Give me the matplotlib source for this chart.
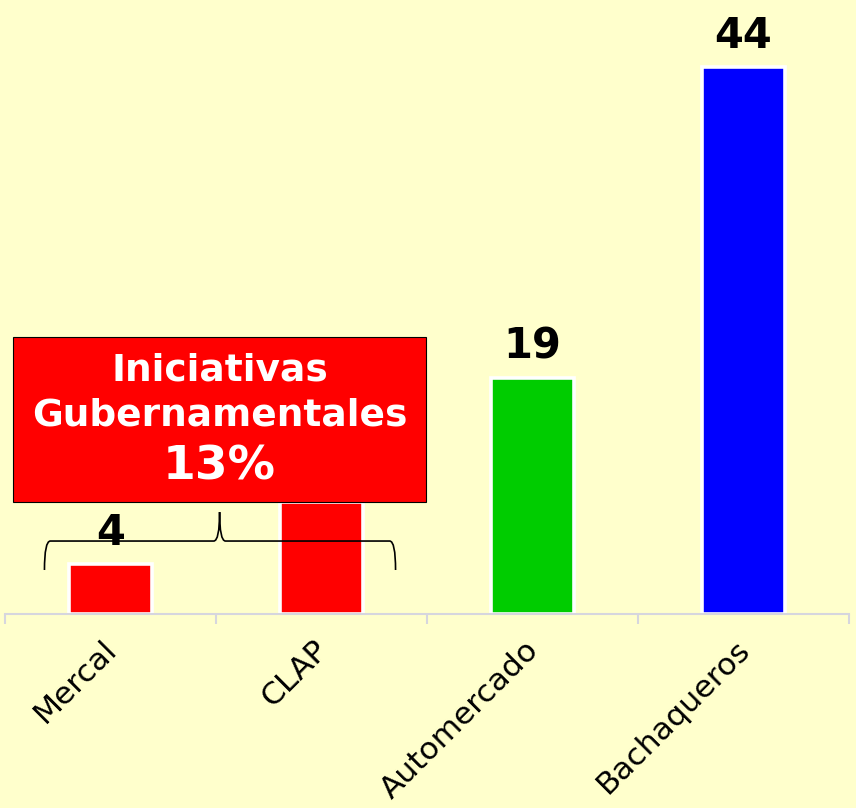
import matplotlib.pyplot as plt
from matplotlib.patches import Rectangle, PathPatch
from matplotlib.path import Path
from matplotlib.transforms import ScaledTranslation

categories = ["Mercal", "CLAP", "Automercado", "Bachaqueros"]
values = [4, 9, 19, 44]
colors = ["#ff0000", "#ff0000", "#00cc00", "#0000ff"]
box_lines = ["Iniciativas", "Gubernamentales", "13%"]

bg = "#ffffcc"
fig = plt.figure(figsize=(8.56, 8.08), dpi=100, facecolor=bg)
ax = fig.add_axes([5 / 856, 0.2401, 844 / 856, 0.9785 - 0.2401])
ax.set_facecolor(bg)

x = list(range(len(categories)))
ax.bar(x, values, width=0.39, color=colors, edgecolor="white", linewidth=2.6, zorder=2)
for xi, v in zip(x, values):
    ax.annotate(str(v), (xi, v), xytext=(0, 14), textcoords="offset points",
                ha="center", va="baseline", fontsize=30, fontweight="bold", zorder=3)

ax.set_xlim(-0.5, len(categories) - 0.5)
ax.set_ylim(0, 48)
ax.set_yticks([])
for s in ["left", "right", "top"]:
    ax.spines[s].set_visible(False)
ax.spines["bottom"].set_color("#d6d6de")
ax.spines["bottom"].set_linewidth(1.5)

ax.set_xticks(x)
ax.set_xticklabels(categories, rotation=45, ha="right", fontsize=22.5)
ax.tick_params(axis="x", which="major", length=0, pad=15)
ax.set_xticks([i - 0.5 for i in range(len(categories) + 1)], minor=True)
ax.tick_params(axis="x", which="minor", length=7.2, width=1.5, color="#d6d6de")
for lab in ax.get_xticklabels():
    lab.set_transform(lab.get_transform() + ScaledTranslation(12 / 100, 0, fig.dpi_scale_trans))

# caja de iniciativas gubernamentales
ax.add_patch(Rectangle((-0.46, values[1]), 1.953, 13.27, facecolor="#ff0000",
                       edgecolor="black", linewidth=0.8, zorder=5))
xc = 0.517
ax.text(xc, 19.63, box_lines[0], ha="center", va="center", color="white",
        fontsize=27, fontweight="bold", zorder=6)
ax.text(xc, 15.93, box_lines[1], ha="center", va="center", color="white",
        fontsize=27, fontweight="bold", zorder=6)
ax.text(xc, 11.83, box_lines[2], ha="center", va="center", color="white",
        fontsize=34, fontweight="bold", zorder=6)

# llave
xl, xr = -0.313, 1.351
yb, ye, yt = 5.87, 3.54, 8.2
dx = 0.028
verts = [(xl, ye), (xl, yb), (xl + dx, yb), (xc - dx, yb), (xc, yb), (xc, yt),
         (xc, yb), (xc + dx, yb), (xr - dx, yb), (xr, yb), (xr, ye)]
codes = [Path.MOVETO, Path.CURVE3, Path.CURVE3, Path.LINETO, Path.CURVE3, Path.CURVE3,
         Path.CURVE3, Path.CURVE3, Path.LINETO, Path.CURVE3, Path.CURVE3]
ax.add_patch(PathPatch(Path(verts, codes), facecolor="none", edgecolor="black",
                       linewidth=1.2, zorder=4))

fig.savefig("out.png", dpi=100, facecolor=bg)
